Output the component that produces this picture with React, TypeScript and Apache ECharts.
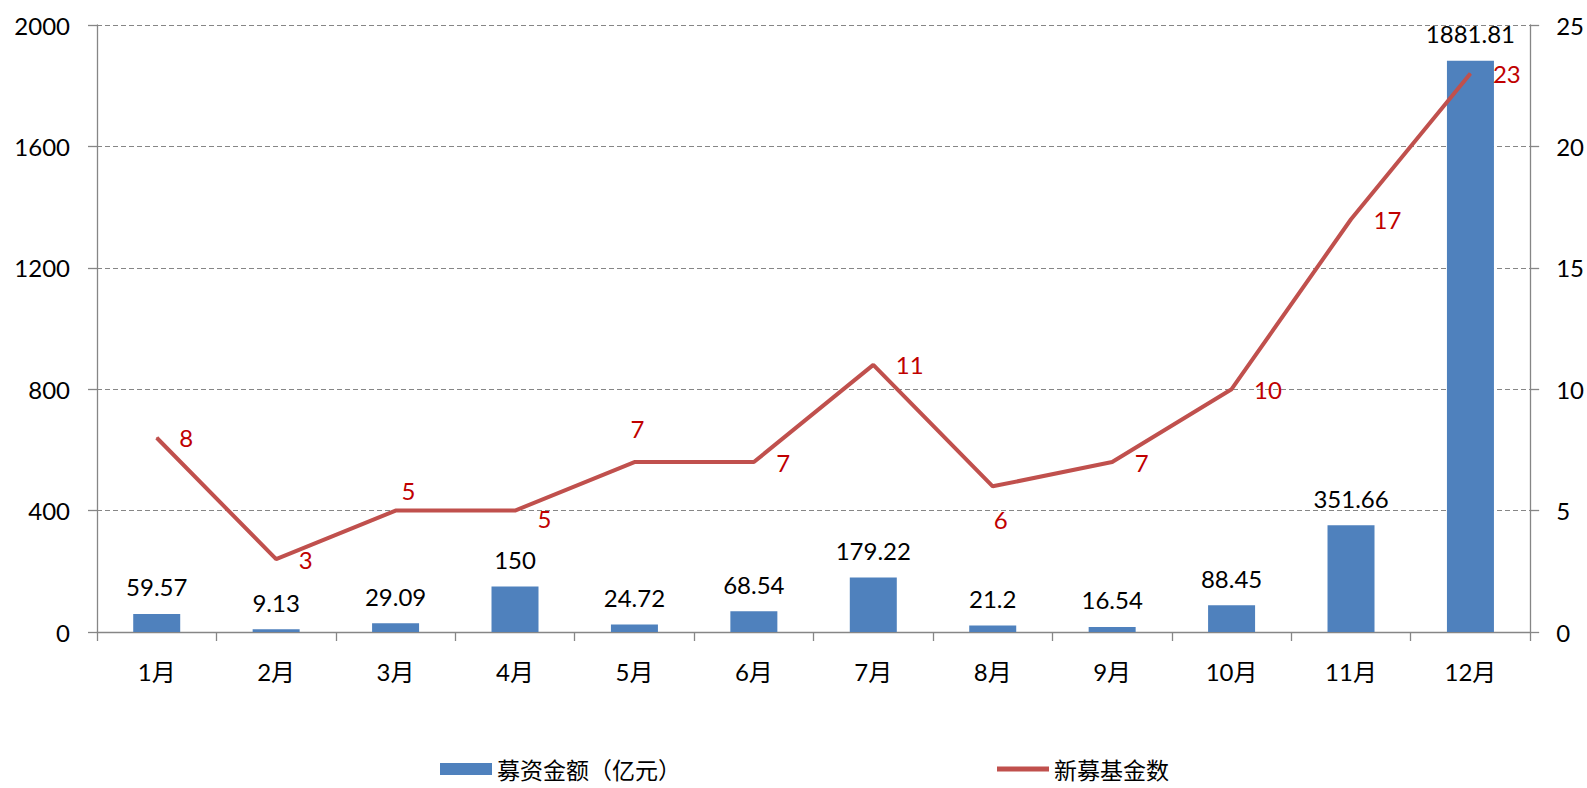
import React, { useEffect, useRef } from "react";
import * as echarts from "echarts";

const categories = ["1月", "2月", "3月", "4月", "5月", "6月", "7月", "8月", "9月", "10月", "11月", "12月"];
const amounts = [59.57, 9.13, 29.09, 150, 24.72, 68.54, 179.22, 21.2, 16.54, 88.45, 351.66, 1881.81];
const fundCounts = [8, 3, 5, 5, 7, 7, 11, 6, 7, 10, 17, 23];
const leftTicks = { min: 0, max: 2000, interval: 400 };
const rightTicks = { min: 0, max: 25, interval: 5 };
const seriesNames = ["募资金额（亿元）", "新募基金数"];

// label placement per point (style only)
const linePlacement: Record<number, any> = {
  2: { position: "top", distance: 8, offset: [13, 0] },
  3: { position: "right", distance: 22, offset: [0, 8] },
  4: { position: "top", distance: 21, offset: [3, 0] },
  7: { position: "bottom", distance: 21, offset: [8, 0] },
};

const FONT = "Lato, 'Noto Sans CJK SC', sans-serif";

export default function App() {
  const ref = useRef<HTMLDivElement>(null);
  useEffect(() => {
    if (!ref.current) return;
    const chart = echarts.init(ref.current, null, { renderer: "svg" });
    const axisGray = "#868686";
    chart.setOption({
      animation: false,
      textStyle: { fontFamily: FONT },
      grid: { left: 97, right: 56, top: 25, bottom: 156, containLabel: false },
      legend: {
        top: 756,
        left: 440,
        padding: 0,
        itemGap: 316,
        itemWidth: 52,
        itemHeight: 12,
        textStyle: { fontSize: 23, lineHeight: 26, color: "#000", fontFamily: "'Noto Sans CJK SC', sans-serif" },
        data: [
          { name: seriesNames[0], icon: "rect" },
          { name: seriesNames[1], icon: "path://M0,0 L52,0 L52,5 L0,5 Z" },
        ],
      },
      xAxis: {
        type: "category",
        data: categories,
        boundaryGap: true,
        axisLine: { lineStyle: { color: axisGray, width: 1.3 } },
        axisTick: { show: true, length: 9, alignWithLabel: false, lineStyle: { color: axisGray, width: 1.3 } },
        axisLabel: { fontSize: 24, color: "#000", margin: 27, fontFamily: FONT, interval: 0 },
      },
      yAxis: [
        {
          type: "value",
          min: leftTicks.min,
          max: leftTicks.max,
          interval: leftTicks.interval,
          axisLine: { show: true, lineStyle: { color: axisGray, width: 1.3 } },
          axisTick: { show: true, length: 9, lineStyle: { color: axisGray, width: 1.3 } },
          axisLabel: { fontSize: 24, color: "#000", margin: 27, fontFamily: FONT, formatter: (v: number) => String(v) },
          splitLine: { show: true, lineStyle: { color: axisGray, type: [5, 3], width: 1 } },
        },
        {
          type: "value",
          min: rightTicks.min,
          max: rightTicks.max,
          interval: rightTicks.interval,
          axisLine: { show: true, lineStyle: { color: axisGray, width: 1.3 } },
          axisTick: { show: true, length: 9, lineStyle: { color: axisGray, width: 1.3 } },
          axisLabel: { fontSize: 24, color: "#000", margin: 26, fontFamily: FONT, formatter: (v: number) => String(v) },
          splitLine: { show: false },
        },
      ],
      series: [
        {
          name: seriesNames[0],
          type: "bar",
          yAxisIndex: 0,
          data: amounts,
          barWidth: 47,
          itemStyle: { color: "#4F81BD" },
          label: {
            show: true,
            position: "top",
            distance: 15,
            fontSize: 24,
            color: "#000",
            fontFamily: FONT,
          },
        },
        {
          name: seriesNames[1],
          type: "line",
          yAxisIndex: 1,
          symbol: "circle",
          symbolSize: 1,
          lineStyle: { color: "#C0504D", width: 4 },
          itemStyle: { color: "#C0504D" },
          data: fundCounts.map((v, i) => ({
            value: v,
            label: linePlacement[i] ? { ...linePlacement[i] } : undefined,
          })),
          label: {
            show: true,
            position: "right",
            distance: 22,
            fontSize: 24,
            color: "#C00000",
            fontFamily: FONT,
          },
        },
      ],
    });
    return () => chart.dispose();
  }, []);
  return (
    <div
      ref={ref}
      style={{ position: "fixed", left: 0, top: 0, width: 1587, height: 788, background: "#fff" }}
    />
  );
}
